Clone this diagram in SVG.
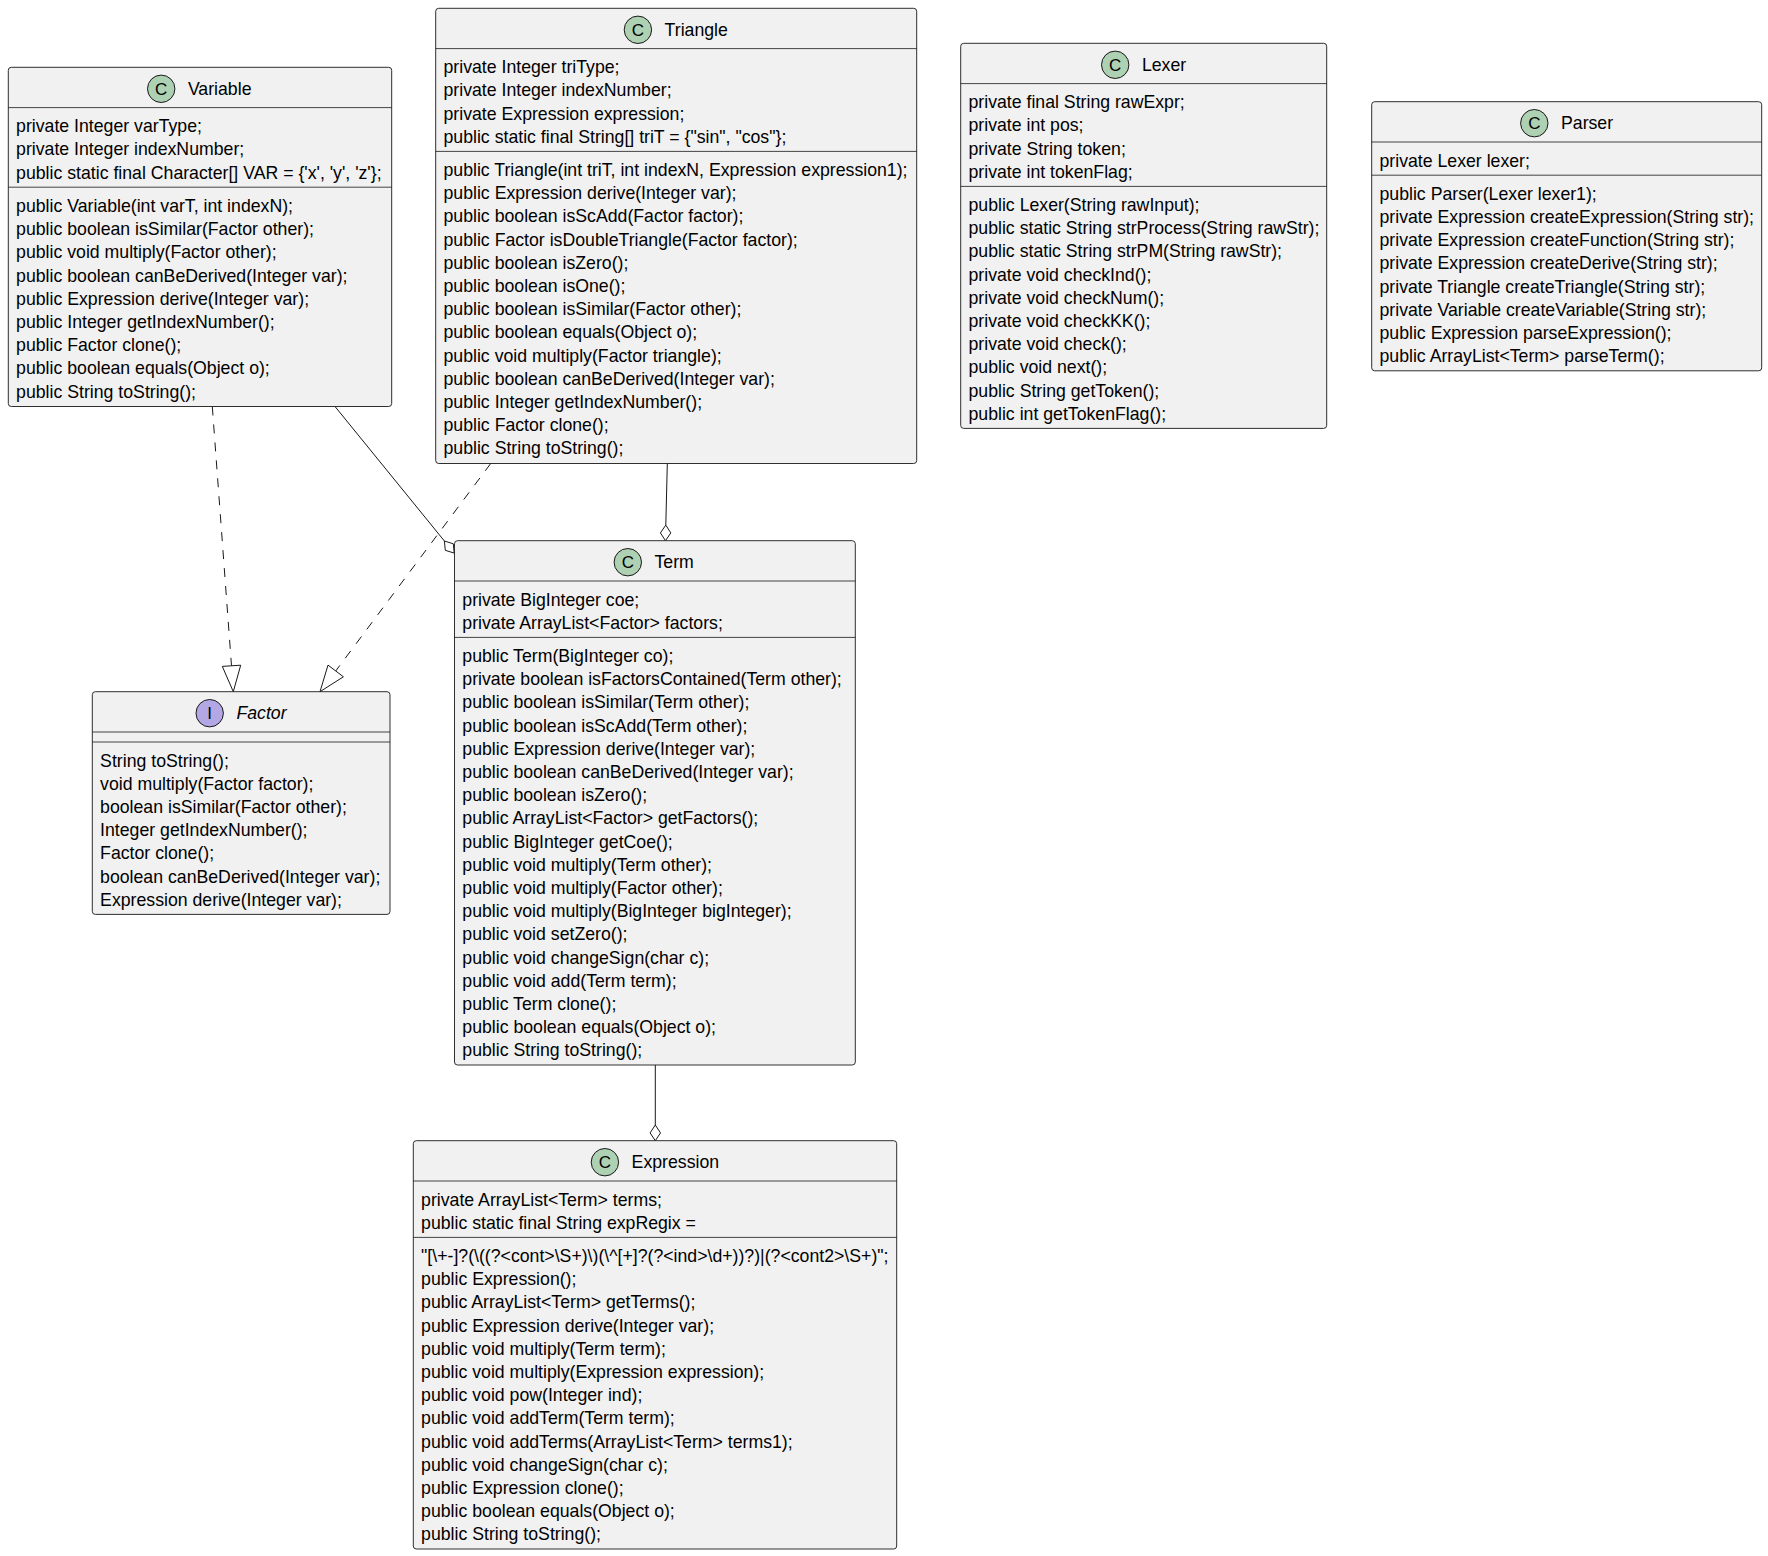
<svg xmlns="http://www.w3.org/2000/svg" width="1768" height="1556" viewBox="0 0 1768 1556">
<style>
.box{fill:#F1F1F1;stroke:#181818;stroke-width:0.9}
.sep{stroke:#181818;stroke-width:0.8}
.t{font-family:"Liberation Sans",Arial,sans-serif;font-size:17.7px;fill:#000000}
.title{font-family:"Liberation Sans",Arial,sans-serif;font-size:17.7px;fill:#000000}
.ital{font-style:italic}
.cc{fill:#ADD1B2;stroke:#181818;stroke-width:1}
.ci{fill:#B4A7E5;stroke:#181818;stroke-width:1}
.cl{font-family:"Liberation Sans",Arial,sans-serif;font-size:17px;fill:#000000;text-anchor:middle}
.edge{stroke:#181818;stroke-width:1;fill:none}
.dash{stroke-dasharray:9,9}
.head{stroke:#181818;stroke-width:1;fill:#FFFFFF}
</style>
<rect x="0" y="0" width="1768" height="1556" fill="#FFFFFF"/>

<g id="connectors">
  <!-- Variable realizes Factor -->
  <path class="edge dash" d="M212.3,406.5 L231.5,665.8"/>
  <polygon class="head" points="233.3,691.7 240.7,665.2 222.3,666.4"/>
  <!-- Triangle realizes Factor -->
  <path class="edge dash" d="M490.7,463.5 L335.7,671"/>
  <polygon class="head" points="320,691.7 343.4,676.8 328,665.1"/>
  <!-- Variable aggregated in Term -->
  <path class="edge" d="M335,406.5 L444.4,541"/>
  <polygon class="head" points="444.4,541 453.3,543.8 454.2,553.1 445.3,550.3"/>
  <!-- Triangle aggregated in Term -->
  <path class="edge" d="M667.3,463.5 L665.8,525.1"/>
  <polygon class="head" points="665.8,525.1 670.8,532.9 665.5,540.7 660.4,532.9"/>
  <!-- Term aggregated in Expression -->
  <path class="edge" d="M655.3,1065 L655.3,1125"/>
  <polygon class="head" points="655.3,1125 660.5,1132.9 655.3,1140.7 650.1,1132.9"/>
</g>

<g id="Variable">
  <rect class="box" x="8.3" y="67.3" width="383.4" height="339.2" rx="3"/>
  <circle class="cc" cx="161.2" cy="88.8" r="13.7"/>
  <text class="cl" x="161.2" y="94.8">C</text>
  <text class="title" x="187.9" y="94.8">Variable</text>
  <line class="sep" x1="8.3" y1="107.6" x2="391.7" y2="107.6"/>
  <text class="t" x="16.1" y="132.2">private Integer varType;</text>
  <text class="t" x="16.1" y="155.4">private Integer indexNumber;</text>
  <text class="t" x="16.1" y="178.6">public static final Character[] VAR = {'x', 'y', 'z'};</text>
  <line class="sep" x1="8.3" y1="187.2" x2="391.7" y2="187.2"/>
  <text class="t" x="16.1" y="211.9">public Variable(int varT, int indexN);</text>
  <text class="t" x="16.1" y="235.1">public boolean isSimilar(Factor other);</text>
  <text class="t" x="16.1" y="258.3">public void multiply(Factor other);</text>
  <text class="t" x="16.1" y="281.5">public boolean canBeDerived(Integer var);</text>
  <text class="t" x="16.1" y="304.7">public Expression derive(Integer var);</text>
  <text class="t" x="16.1" y="327.9">public Integer getIndexNumber();</text>
  <text class="t" x="16.1" y="351.1">public Factor clone();</text>
  <text class="t" x="16.1" y="374.3">public boolean equals(Object o);</text>
  <text class="t" x="16.1" y="397.5">public String toString();</text>
</g>

<g id="Triangle">
  <rect class="box" x="435.7" y="8.3" width="481" height="455.2" rx="3"/>
  <circle class="cc" cx="637.9" cy="29.8" r="13.7"/>
  <text class="cl" x="637.9" y="35.8">C</text>
  <text class="title" x="664.6" y="35.8">Triangle</text>
  <line class="sep" x1="435.7" y1="48.6" x2="916.7" y2="48.6"/>
  <text class="t" x="443.5" y="73.2">private Integer triType;</text>
  <text class="t" x="443.5" y="96.4">private Integer indexNumber;</text>
  <text class="t" x="443.5" y="119.6">private Expression expression;</text>
  <text class="t" x="443.5" y="142.8">public static final String[] triT = {"sin", "cos"};</text>
  <line class="sep" x1="435.7" y1="151.4" x2="916.7" y2="151.4"/>
  <text class="t" x="443.5" y="176.0">public Triangle(int triT, int indexN, Expression expression1);</text>
  <text class="t" x="443.5" y="199.2">public Expression derive(Integer var);</text>
  <text class="t" x="443.5" y="222.4">public boolean isScAdd(Factor factor);</text>
  <text class="t" x="443.5" y="245.6">public Factor isDoubleTriangle(Factor factor);</text>
  <text class="t" x="443.5" y="268.8">public boolean isZero();</text>
  <text class="t" x="443.5" y="292.0">public boolean isOne();</text>
  <text class="t" x="443.5" y="315.2">public boolean isSimilar(Factor other);</text>
  <text class="t" x="443.5" y="338.4">public boolean equals(Object o);</text>
  <text class="t" x="443.5" y="361.6">public void multiply(Factor triangle);</text>
  <text class="t" x="443.5" y="384.8">public boolean canBeDerived(Integer var);</text>
  <text class="t" x="443.5" y="408.0">public Integer getIndexNumber();</text>
  <text class="t" x="443.5" y="431.2">public Factor clone();</text>
  <text class="t" x="443.5" y="454.4">public String toString();</text>
</g>

<g id="Lexer">
  <rect class="box" x="960.7" y="43.3" width="366" height="385.1" rx="3"/>
  <circle class="cc" cx="1115.2" cy="64.8" r="13.7"/>
  <text class="cl" x="1115.2" y="70.8">C</text>
  <text class="title" x="1141.9" y="70.8">Lexer</text>
  <line class="sep" x1="960.7" y1="83.6" x2="1326.7" y2="83.6"/>
  <text class="t" x="968.5" y="108.2">private final String rawExpr;</text>
  <text class="t" x="968.5" y="131.4">private int pos;</text>
  <text class="t" x="968.5" y="154.6">private String token;</text>
  <text class="t" x="968.5" y="177.8">private int tokenFlag;</text>
  <line class="sep" x1="960.7" y1="186.4" x2="1326.7" y2="186.4"/>
  <text class="t" x="968.5" y="211.0">public Lexer(String rawInput);</text>
  <text class="t" x="968.5" y="234.2">public static String strProcess(String rawStr);</text>
  <text class="t" x="968.5" y="257.4">public static String strPM(String rawStr);</text>
  <text class="t" x="968.5" y="280.6">private void checkInd();</text>
  <text class="t" x="968.5" y="303.8">private void checkNum();</text>
  <text class="t" x="968.5" y="327.0">private void checkKK();</text>
  <text class="t" x="968.5" y="350.2">private void check();</text>
  <text class="t" x="968.5" y="373.4">public void next();</text>
  <text class="t" x="968.5" y="396.6">public String getToken();</text>
  <text class="t" x="968.5" y="419.8">public int getTokenFlag();</text>
</g>

<g id="Parser">
  <rect class="box" x="1371.7" y="101.7" width="390" height="269.1" rx="3"/>
  <circle class="cc" cx="1534.3" cy="123.2" r="13.7"/>
  <text class="cl" x="1534.3" y="129.2">C</text>
  <text class="title" x="1561" y="129.2">Parser</text>
  <line class="sep" x1="1371.7" y1="142.0" x2="1761.7" y2="142.0"/>
  <text class="t" x="1379.5" y="166.6">private Lexer lexer;</text>
  <line class="sep" x1="1371.7" y1="175.2" x2="1761.7" y2="175.2"/>
  <text class="t" x="1379.5" y="199.8">public Parser(Lexer lexer1);</text>
  <text class="t" x="1379.5" y="223.0">private Expression createExpression(String str);</text>
  <text class="t" x="1379.5" y="246.2">private Expression createFunction(String str);</text>
  <text class="t" x="1379.5" y="269.4">private Expression createDerive(String str);</text>
  <text class="t" x="1379.5" y="292.6">private Triangle createTriangle(String str);</text>
  <text class="t" x="1379.5" y="315.8">private Variable createVariable(String str);</text>
  <text class="t" x="1379.5" y="339.0">public Expression parseExpression();</text>
  <text class="t" x="1379.5" y="362.2">public ArrayList&lt;Term&gt; parseTerm();</text>
</g>

<g id="Term">
  <rect class="box" x="454.5" y="540.7" width="400.8" height="524.3" rx="3"/>
  <circle class="cc" cx="627.8" cy="562.2" r="13.7"/>
  <text class="cl" x="627.8" y="568.2">C</text>
  <text class="title" x="654.5" y="568.2">Term</text>
  <line class="sep" x1="454.5" y1="581.0" x2="855.3" y2="581.0"/>
  <text class="t" x="462.3" y="605.6">private BigInteger coe;</text>
  <text class="t" x="462.3" y="628.8">private ArrayList&lt;Factor&gt; factors;</text>
  <line class="sep" x1="454.5" y1="637.4" x2="855.3" y2="637.4"/>
  <text class="t" x="462.3" y="662.0">public Term(BigInteger co);</text>
  <text class="t" x="462.3" y="685.2">private boolean isFactorsContained(Term other);</text>
  <text class="t" x="462.3" y="708.4">public boolean isSimilar(Term other);</text>
  <text class="t" x="462.3" y="731.6">public boolean isScAdd(Term other);</text>
  <text class="t" x="462.3" y="754.8">public Expression derive(Integer var);</text>
  <text class="t" x="462.3" y="778.0">public boolean canBeDerived(Integer var);</text>
  <text class="t" x="462.3" y="801.2">public boolean isZero();</text>
  <text class="t" x="462.3" y="824.4">public ArrayList&lt;Factor&gt; getFactors();</text>
  <text class="t" x="462.3" y="847.6">public BigInteger getCoe();</text>
  <text class="t" x="462.3" y="870.8">public void multiply(Term other);</text>
  <text class="t" x="462.3" y="894.0">public void multiply(Factor other);</text>
  <text class="t" x="462.3" y="917.2">public void multiply(BigInteger bigInteger);</text>
  <text class="t" x="462.3" y="940.4">public void setZero();</text>
  <text class="t" x="462.3" y="963.6">public void changeSign(char c);</text>
  <text class="t" x="462.3" y="986.8">public void add(Term term);</text>
  <text class="t" x="462.3" y="1010.0">public Term clone();</text>
  <text class="t" x="462.3" y="1033.2">public boolean equals(Object o);</text>
  <text class="t" x="462.3" y="1056.4">public String toString();</text>
</g>

<g id="Factor">
  <rect class="box" x="92.3" y="691.7" width="297.7" height="222.7" rx="3"/>
  <circle class="ci" cx="209.7" cy="713.2" r="13.7"/>
  <text class="cl" x="209.7" y="719.2">I</text>
  <text class="title ital" x="236.4" y="719.2">Factor</text>
  <line class="sep" x1="92.3" y1="732.0" x2="390" y2="732.0"/>
  <line class="sep" x1="92.3" y1="742.0" x2="390" y2="742.0"/>
  <text class="t" x="100.1" y="766.6">String toString();</text>
  <text class="t" x="100.1" y="789.8">void multiply(Factor factor);</text>
  <text class="t" x="100.1" y="813.0">boolean isSimilar(Factor other);</text>
  <text class="t" x="100.1" y="836.2">Integer getIndexNumber();</text>
  <text class="t" x="100.1" y="859.4">Factor clone();</text>
  <text class="t" x="100.1" y="882.6">boolean canBeDerived(Integer var);</text>
  <text class="t" x="100.1" y="905.8">Expression derive(Integer var);</text>
</g>

<g id="Expression">
  <rect class="box" x="413.3" y="1140.7" width="483.4" height="408.3" rx="3"/>
  <circle class="cc" cx="604.9" cy="1162.2" r="13.7"/>
  <text class="cl" x="604.9" y="1168.2">C</text>
  <text class="title" x="631.6" y="1168.2">Expression</text>
  <line class="sep" x1="413.3" y1="1181.0" x2="896.7" y2="1181.0"/>
  <text class="t" x="421.1" y="1205.6">private ArrayList&lt;Term&gt; terms;</text>
  <text class="t" x="421.1" y="1228.8">public static final String expRegix =</text>
  <line class="sep" x1="413.3" y1="1237.4" x2="896.7" y2="1237.4"/>
  <text class="t" x="421.1" y="1262.0">"[\+-]?(\((?&lt;cont&gt;\S+)\)(\^[+]?(?&lt;ind&gt;\d+))?)|(?&lt;cont2&gt;\S+)";</text>
  <text class="t" x="421.1" y="1285.2">public Expression();</text>
  <text class="t" x="421.1" y="1308.4">public ArrayList&lt;Term&gt; getTerms();</text>
  <text class="t" x="421.1" y="1331.6">public Expression derive(Integer var);</text>
  <text class="t" x="421.1" y="1354.8">public void multiply(Term term);</text>
  <text class="t" x="421.1" y="1378.0">public void multiply(Expression expression);</text>
  <text class="t" x="421.1" y="1401.2">public void pow(Integer ind);</text>
  <text class="t" x="421.1" y="1424.4">public void addTerm(Term term);</text>
  <text class="t" x="421.1" y="1447.6">public void addTerms(ArrayList&lt;Term&gt; terms1);</text>
  <text class="t" x="421.1" y="1470.8">public void changeSign(char c);</text>
  <text class="t" x="421.1" y="1494.0">public Expression clone();</text>
  <text class="t" x="421.1" y="1517.2">public boolean equals(Object o);</text>
  <text class="t" x="421.1" y="1540.4">public String toString();</text>
</g>
</svg>
